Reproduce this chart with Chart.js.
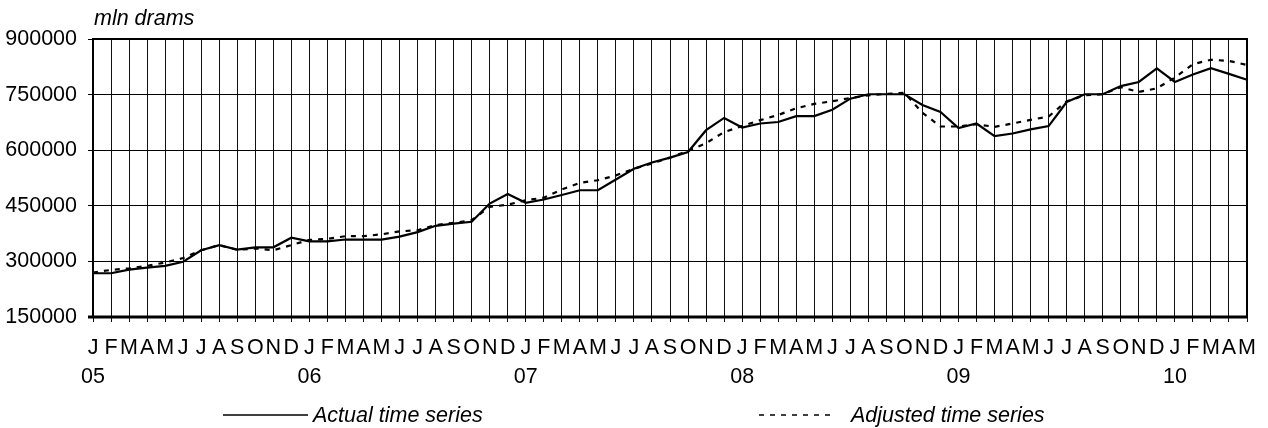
<!DOCTYPE html>
<html>
<head>
<meta charset="utf-8">
<script src="https://cdn.jsdelivr.net/npm/chart.js@4"></script>
<style>
  html, body { margin: 0; padding: 0; background: #fff; }
  #wrap { width: 1268px; height: 428px; }
</style>
</head>
<body>
<div id="wrap"><canvas id="money"></canvas></div>
<script>
// monthly data, Jan 2005 .. May 2010
const months = ['J','F','M','A','M','J','J','A','S','O','N','D'];
const years = ['05','06','07','08','09','10'];
const monthCount = 65;

const actual = [
  268000, 268000, 278000, 283000, 288000, 299000, 330000, 344000, 332000, 338000, 338000, 364000,
  354000, 354000, 359000, 359000, 359000, 367000, 379000, 396000, 402000, 407000, 456000, 482000,
  458000, 467000, 479000, 492000, 492000, 521000, 550000, 567000, 580000, 595000, 654000, 687000,
  661000, 672000, 676000, 692000, 692000, 709000, 739000, 751000, 751000, 751000, 722000, 703000,
  660000, 672000, 638000, 645000, 656000, 665000, 730000, 751000, 751000, 773000, 784000, 821000,
  784000, 804000, 821000, 806000, 790000
];
const adjusted = [
  270000, 277000, 281000, 288000, 297000, 309000, 330000, 344000, 331000, 335000, 330000, 344000,
  358000, 361000, 368000, 368000, 373000, 381000, 384000, 398000, 404000, 411000, 447000, 453000,
  465000, 472000, 494000, 512000, 519000, 532000, 550000, 564000, 580000, 598000, 619000, 649000,
  665000, 681000, 695000, 713000, 725000, 732000, 741000, 748000, 752000, 755000, 701000, 664000,
  664000, 670000, 663000, 672000, 682000, 691000, 732000, 748000, 751000, 770000, 757000, 767000,
  796000, 832000, 844000, 841000, 830000
];
const yTicks = [150000, 300000, 450000, 600000, 750000, 900000];
const unitLabel = 'mln drams';
const seriesNames = ['Actual time series', 'Adjusted time series'];

// Jan gets the year on a second line
const labels = [];
for (let i = 0; i < monthCount; i++) {
  const m = months[i % 12];
  labels.push(i % 12 === 0 ? [m, years[i / 12]] : m);
}

const FONT = '"Liberation Sans", Arial, sans-serif';
Chart.defaults.font.family = FONT;
Chart.defaults.font.size = 21.5;
Chart.defaults.color = '#000';

// frame, unit label and the wide-spaced legend under the axis
const extras = {
  id: 'extras',
  afterDraw(chart) {
    const { ctx, chartArea: a } = chart;
    ctx.save();
    ctx.strokeStyle = '#000';
    ctx.lineWidth = 2;
    ctx.strokeRect(a.left, a.top, a.right - a.left, a.bottom - a.top);
    ctx.lineWidth = 3;
    ctx.beginPath();
    ctx.moveTo(a.left - 5, a.bottom);
    ctx.lineTo(a.right, a.bottom);
    ctx.stroke();

    ctx.fillStyle = '#000';
    ctx.textBaseline = 'middle';
    ctx.font = 'italic 21.5px ' + FONT;
    ctx.fillText(unitLabel, 94, 19);

    const items = [
      { x0: 223, x1: 308, tx: 313, dash: [] },
      { x0: 759, x1: 835, tx: 851, dash: [5, 6] }
    ];
    items.forEach((it, k) => {
      ctx.lineWidth = 1.5;
      ctx.setLineDash(it.dash);
      ctx.beginPath();
      ctx.moveTo(it.x0, 415);
      ctx.lineTo(it.x1, 415);
      ctx.stroke();
      ctx.setLineDash([]);
      ctx.fillText(chart.data.datasets[k].label, it.tx, 416);
    });
    ctx.restore();
  }
};

new Chart(document.getElementById('money'), {
  type: 'line',
  data: {
    labels: labels,
    datasets: [
      {
        label: seriesNames[0],
        data: actual,
        borderColor: '#000',
        borderWidth: 2.2,
        pointRadius: 0,
        tension: 0
      },
      {
        label: seriesNames[1],
        data: adjusted,
        borderColor: '#000',
        borderWidth: 2.2,
        borderDash: [5, 6],
        pointRadius: 0,
        tension: 0
      }
    ]
  },
  options: {
    responsive: true,
    maintainAspectRatio: false,
    animation: false,
    layout: { padding: { top: 39, right: 21, bottom: 41, left: 0 } },
    plugins: {
      legend: { display: false },
      tooltip: { enabled: false }
    },
    scales: {
      x: {
        offset: false,
        grid: { color: '#111', lineWidth: 1, tickLength: 5 },
        border: { color: '#000', width: 2 },
        ticks: {
          autoSkip: false,
          maxRotation: 0,
          padding: 12,
          font: { size: 21.5, lineHeight: 1.35 }
        },
        afterFit: s => { s.height = 70; }
      },
      y: {
        min: yTicks[0],
        max: yTicks[yTicks.length - 1],
        afterBuildTicks: s => { s.ticks = yTicks.map(v => ({ value: v })); },
        grid: { color: '#000', lineWidth: 1, tickLength: 5 },
        border: { color: '#000', width: 2 },
        ticks: {
          padding: 11,
          callback: v => String(v)
        },
        afterFit: s => { s.width = 93; }
      }
    }
  },
  plugins: [extras]
});
</script>
</body>
</html>
